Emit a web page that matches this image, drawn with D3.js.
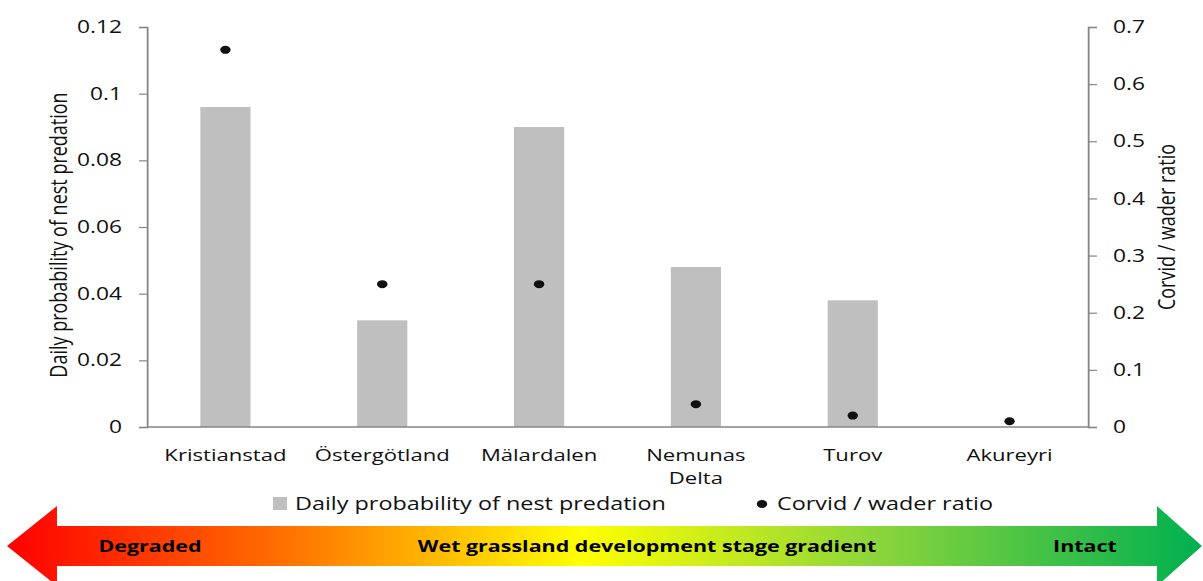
<!DOCTYPE html>
<html>
<head>
<meta charset="utf-8">
<script src="https://cdn.jsdelivr.net/npm/d3@7"></script>
<style>
  body { margin: 0; background: #fff; }
  svg { display: block; }
</style>
</head>
<body>
<svg id="chart"></svg>
<script>
// data
const sites = ["Kristianstad", "Östergötland", "Mälardalen", "Nemunas\nDelta", "Turov", "Akureyri"];
const predation = [0.096, 0.032, 0.090, 0.048, 0.038, 0];
const corvidRatio = [0.66, 0.25, 0.25, 0.04, 0.02, 0.01];
const leftTicks = [0, 0.02, 0.04, 0.06, 0.08, 0.1, 0.12];
const rightTicks = [0, 0.1, 0.2, 0.3, 0.4, 0.5, 0.6, 0.7];
const gradientLabels = ["Degraded", "Wet grassland development stage gradient", "Intact"];

const width = 1203, height = 581;
const S = 1.3;               // the original is stretched sideways, so draw narrow and stretch
const VW = width / S;
const px = x => x / S;       // screen x -> viewBox x

const plotL = px(147), plotR = px(1088), plotT = 27, plotB = 427;
const font = "'Open Sans', sans-serif";

const svg = d3.select("#chart")
  .attr("width", width)
  .attr("height", height)
  .attr("viewBox", `0 0 ${VW} ${height}`)
  .attr("preserveAspectRatio", "none");

const x = d3.scaleBand()
  .domain(sites)
  .range([plotL, plotR])
  .paddingInner(0.68)
  .paddingOuter(0.34);

const yL = d3.scaleLinear().domain([0, 0.12]).range([plotB, plotT]);
const yR = d3.scaleLinear().domain([0, 0.7]).range([plotB, plotT]);

// bars
svg.append("g")
  .selectAll("rect")
  .data(predation)
  .join("rect")
  .attr("x", (d, i) => x(sites[i]))
  .attr("y", d => yL(d))
  .attr("width", x.bandwidth())
  .attr("height", d => plotB - yL(d))
  .attr("fill", "#bfbfbf");

// axes
const axisL = svg.append("g")
  .attr("transform", `translate(${plotL},0)`)
  .call(d3.axisLeft(yL).tickValues(leftTicks).tickFormat(d => String(d)).tickSize(px(8)).tickPadding(px(17)));

const axisR = svg.append("g")
  .attr("transform", `translate(${plotR},0)`)
  .call(d3.axisRight(yR).tickValues(rightTicks).tickFormat(d => String(d)).tickSize(px(9)).tickPadding(px(16)));

[axisL, axisR].forEach(g => {
  g.select(".domain").attr("stroke", "#868686").attr("stroke-width", 1.4);
  g.selectAll(".tick line").attr("stroke", "#868686").attr("stroke-width", 1.2);
  g.selectAll(".tick text")
    .attr("fill", "#111")
    .style("font-family", font)
    .style("font-size", "17.5px");
});

svg.append("line")
  .attr("x1", plotL).attr("x2", plotR)
  .attr("y1", plotB).attr("y2", plotB)
  .attr("stroke", "#868686")
  .attr("stroke-width", 1.6);

// dots
svg.append("g")
  .selectAll("circle")
  .data(corvidRatio)
  .join("circle")
  .attr("cx", (d, i) => x(sites[i]) + x.bandwidth() / 2)
  .attr("cy", d => yR(d))
  .attr("r", 4)
  .attr("fill", "#111");

// category labels
const cat = svg.append("g")
  .selectAll("text")
  .data(sites)
  .join("text")
  .attr("x", d => x(d) + x.bandwidth() / 2)
  .attr("y", 461)
  .attr("text-anchor", "middle")
  .attr("fill", "#111")
  .style("font-family", font)
  .style("font-size", "17px");

cat.selectAll("tspan")
  .data(d => d.split("\n"))
  .join("tspan")
  .attr("x", function () { return d3.select(this.parentNode).attr("x"); })
  .attr("dy", (d, i) => i === 0 ? 0 : 23)
  .text(d => d);

// axis titles
svg.append("text")
  .attr("transform", `translate(${px(67)},${(plotT + plotB) / 2 + 8}) rotate(-90)`)
  .attr("text-anchor", "middle")
  .attr("fill", "#111")
  .style("font-family", font)
  .style("font-size", "18px")
  .text("Daily probability of nest predation");

svg.append("text")
  .attr("transform", `translate(${px(1175)},${(plotT + plotB) / 2}) rotate(-90)`)
  .attr("text-anchor", "middle")
  .attr("fill", "#111")
  .style("font-family", font)
  .style("font-size", "18px")
  .text("Corvid / wader ratio");

// legend
const legend = svg.append("g").style("font-family", font).style("font-size", "18px");
legend.append("rect")
  .attr("x", px(273)).attr("y", 497)
  .attr("width", px(14)).attr("height", 13)
  .attr("fill", "#bfbfbf");
legend.append("text")
  .attr("x", px(295)).attr("y", 510)
  .attr("fill", "#111")
  .text("Daily probability of nest predation");
legend.append("circle")
  .attr("cx", px(762)).attr("cy", 504)
  .attr("r", 4)
  .attr("fill", "#111");
legend.append("text")
  .attr("x", px(777)).attr("y", 510)
  .attr("fill", "#111")
  .text("Corvid / wader ratio");

// gradient arrow
const grad = svg.append("defs").append("linearGradient")
  .attr("id", "stage")
  .attr("x1", "0%").attr("x2", "100%");
[[0, "#ff0000"], [0.22, "#ff6a00"], [0.48, "#ffff00"], [0.72, "#8fd63a"], [1, "#00b050"]]
  .forEach(([o, c]) => grad.append("stop").attr("offset", o).attr("stop-color", c));

const aL = px(7), aR = px(1202), hL = px(57), hR = px(1157);
const mid = 546, bodyH = 20, headH = 40;
const arrowPts = [
  [aL, mid], [hL, mid - headH], [hL, mid - bodyH], [hR, mid - bodyH], [hR, mid - headH],
  [aR, mid], [hR, mid + headH], [hR, mid + bodyH], [hL, mid + bodyH], [hL, mid + headH]
];
svg.append("path")
  .attr("d", d3.line()(arrowPts) + "Z")
  .attr("fill", "url(#stage)");

const gx = [px(150), px(647), px(1085)];
svg.append("g")
  .selectAll("text")
  .data(gradientLabels)
  .join("text")
  .attr("x", (d, i) => gx[i])
  .attr("y", mid + 6)
  .attr("text-anchor", "middle")
  .attr("fill", "#000")
  .style("font-family", font)
  .style("font-size", "16.5px")
  .style("font-weight", "bold")
  .text(d => d);
</script>
</body>
</html>
